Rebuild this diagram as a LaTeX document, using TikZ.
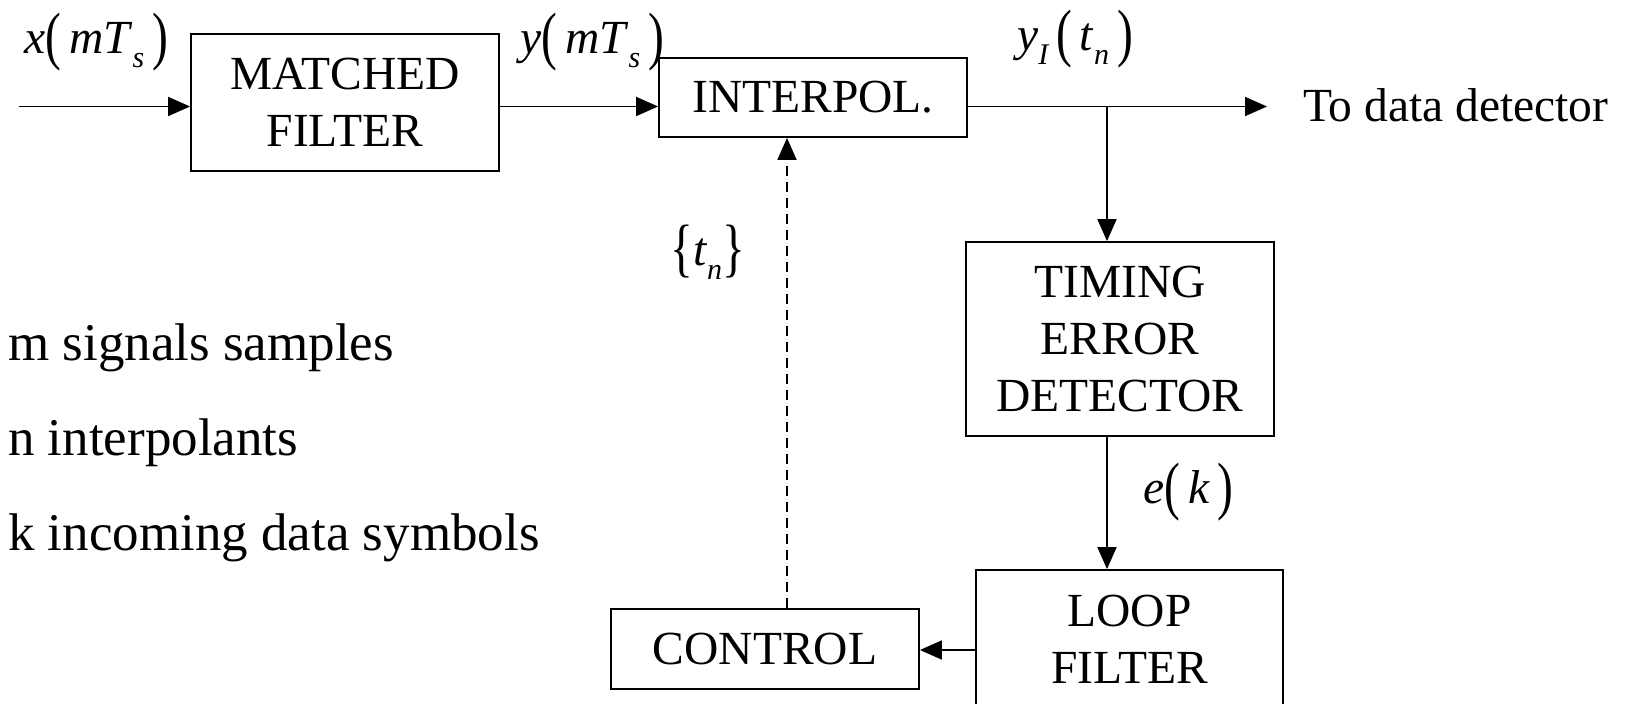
\documentclass[tikz,border=0pt]{standalone}
\usepackage{fontspec}
\setmainfont{Liberation Serif}
\usetikzlibrary{arrows.meta}
\newcommand\fsz{\fontsize{47.5}{57}\selectfont}
\newcommand\fbig{\fontsize{53}{60}\selectfont}
\newcommand\lpr{\raisebox{-0.09em}{\scalebox{1}[1.35]{(}}}
\newcommand\rpr{\raisebox{-0.09em}{\scalebox{1}[1.35]{)}}}
\newcommand\lbr{\raisebox{-0.09em}{\scalebox{1}[1.35]{\{}}}
\newcommand\rbr{\raisebox{-0.09em}{\scalebox{1}[1.35]{\}}}}
\newcommand\subs[1]{\raisebox{-0.3em}{\fontsize{30}{30}\selectfont\itshape #1}}
\begin{document}
\begin{tikzpicture}[x=1pt,y=-1pt,
  block/.style={draw, line width=1.8pt, inner sep=0pt, minimum width=308pt, align=center, font=\fsz},
  lbl/.style={inner sep=0pt, anchor=base west, font=\fsz},
  note/.style={inner sep=0pt, anchor=base west, font=\fbig},
  arr/.style={line width=1.8pt, -{Triangle[length=22pt,width=19pt]}},
  darr/.style={arr, dash pattern=on 10pt off 6pt}]
\useasboundingbox (0,0) rectangle (1631,704);
% blocks
\node[block, minimum height=137pt] (mf) at (345,102.5) {MATCHED\\FILTER};
\node[block, minimum height=79pt] (ip) at (813,97.5) {INTERPOL.};
\node[block, minimum height=194pt] (ted) at (1120,339) {TIMING\\ERROR\\DETECTOR};
\node[block, minimum height=138pt, minimum width=307pt] (lf) at (1129.5,639) {LOOP\\FILTER};
\node[block, minimum height=80pt] (ctl) at (765,649) {CONTROL};
% coordinates
\coordinate (in) at (19,106.5);
\coordinate (out) at (1267,106.5);
\coordinate (br) at (1107,106.5);
\coordinate (lc) at (976,650);
\coordinate (dx) at (787,0);
% connectors
\draw[arr] (in) -- (in -| mf.west);
\draw[arr] (in -| mf.east) -- (in -| ip.west);
\draw[arr] (out -| ip.east) -- (out);
\draw[arr] (br) -- (br |- ted.north);
\draw[arr] (br |- ted.south) -- (br |- lf.north);
\draw[arr] (lc -| lf.west) -- (lc -| ctl.east);
\draw[darr] (dx |- ctl.north) -- (dx |- ip.south);
% labels
\node[lbl] (lx) at (24,53) {\textit{x}\lpr\,\textit{mT}\subs{s}\,\rpr};
\node[lbl] (ly) at (520,53) {\textit{y}\lpr\,\textit{mT}\subs{s}\,\rpr};
\node[lbl] (lyi) at (1017,50) {\textit{y}\subs{I}\,\lpr\,\textit{t}\subs{n}\,\rpr};
\node[lbl] (ltn) at (670,265) {\lbr\textit{t}\subs{n}\rbr};
\node[lbl] (lek) at (1143,503) {\textit{e}\lpr\,\textit{k}\,\rpr};
\node[lbl] (todd) at (1303,121) {To data detector};
% notes
\node[note] (n1) at (8,360) {m signals samples};
\node[note] (n2) at (8,455) {n interpolants};
\node[note] (n3) at (8,550) {k incoming data symbols};
\end{tikzpicture}
\end{document}
